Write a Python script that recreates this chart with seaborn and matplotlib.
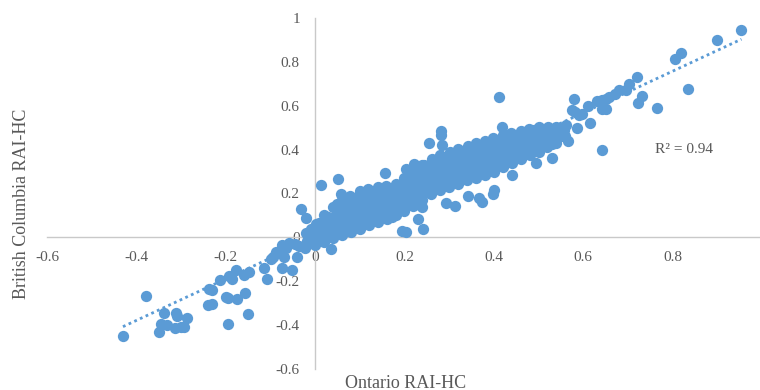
import numpy as np
import pandas as pd
import matplotlib
matplotlib.use("Agg")
import matplotlib.pyplot as plt
import seaborn as sns

# ---- data (Ontario RAI-HC vs British Columbia RAI-HC) ----
ontario_low = [-0.430, -0.379, -0.338, -0.312, -0.310, -0.287, -0.345, -0.331, -0.349, -0.314,
               -0.300, -0.293, -0.237, -0.230, -0.240, -0.230, -0.213, -0.193, -0.186, -0.177,
               -0.159, -0.148, -0.200, -0.195, -0.175, -0.157, -0.195, -0.150, -0.114, -0.108,
               -0.074, -0.052, -0.099, -0.095, -0.088, -0.074, -0.065, -0.058, -0.040, -0.035,
               -0.069, -0.031, -0.020, 0.036, 0.013, 0.052, -0.082, -0.045]
bc_low = [-0.450, -0.268, -0.345, -0.345, -0.357, -0.368, -0.395, -0.400, -0.432, -0.414,
          -0.410, -0.410, -0.236, -0.240, -0.310, -0.305, -0.195, -0.177, -0.190, -0.150,
          -0.173, -0.160, -0.270, -0.277, -0.282, -0.254, -0.395, -0.350, -0.141, -0.190,
          -0.141, -0.150, -0.100, -0.090, -0.068, -0.036, -0.050, -0.027, -0.090, -0.040,
          -0.090, 0.130, 0.090, -0.055, 0.240, 0.268, -0.070, -0.030]

ontario_core = [
    -0.022, -0.018, -0.020,
    0.000, 0.003, -0.002, 0.001,
    0.020, 0.018, 0.022, 0.019,
    0.040, 0.042, 0.038, 0.041,
    0.060, 0.058, 0.062, 0.059, 0.061,
    0.080, 0.082, 0.078, 0.081, 0.079,
    0.100, 0.098, 0.102, 0.099, 0.101,
    0.120, 0.122, 0.118, 0.121, 0.119,
    0.140, 0.138, 0.142, 0.139, 0.141,
    0.160, 0.162, 0.158, 0.161, 0.159,
    0.180, 0.178, 0.182, 0.179, 0.181,
    0.200, 0.202, 0.198, 0.201, 0.199,
    0.220, 0.218, 0.222, 0.219, 0.221,
    0.240, 0.242, 0.238, 0.241, 0.239,
    0.260, 0.258, 0.262, 0.259, 0.261,
    0.280, 0.282, 0.278, 0.281, 0.279,
    0.300, 0.298, 0.302, 0.299, 0.301,
    0.320, 0.322, 0.318, 0.321, 0.319,
    0.340, 0.338, 0.342, 0.339, 0.341,
    0.360, 0.362, 0.358, 0.361, 0.359,
    0.380, 0.378, 0.382, 0.379, 0.381,
    0.400, 0.402, 0.398, 0.401, 0.399,
    0.420, 0.418, 0.422, 0.419, 0.421,
    0.440, 0.442, 0.438, 0.441, 0.439,
    0.460, 0.458, 0.462, 0.459, 0.461,
    0.480, 0.482, 0.478, 0.481, 0.479,
    0.500, 0.498, 0.502, 0.499, 0.501,
    0.520, 0.518, 0.522, 0.521,
    0.540, 0.542, 0.538,
    0.560, 0.558, 0.562]
bc_core = [
    -0.050, -0.015, 0.020,
    -0.035, 0.000, 0.030, 0.060,
    -0.020, 0.020, 0.060, 0.100,
    -0.005, 0.040, 0.090, 0.140,
    0.010, 0.050, 0.090, 0.130, 0.170,
    0.025, 0.065, 0.105, 0.150, 0.190,
    0.040, 0.080, 0.125, 0.170, 0.210,
    0.055, 0.095, 0.140, 0.180, 0.220,
    0.070, 0.110, 0.150, 0.190, 0.230,
    0.085, 0.125, 0.165, 0.200, 0.235,
    0.100, 0.140, 0.175, 0.210, 0.245,
    0.120, 0.160, 0.195, 0.230, 0.270,
    0.145, 0.185, 0.225, 0.260, 0.300,
    0.170, 0.210, 0.250, 0.290, 0.330,
    0.200, 0.240, 0.280, 0.315, 0.355,
    0.215, 0.255, 0.295, 0.335, 0.375,
    0.230, 0.270, 0.310, 0.350, 0.390,
    0.245, 0.285, 0.325, 0.365, 0.405,
    0.260, 0.300, 0.340, 0.380, 0.415,
    0.270, 0.310, 0.350, 0.390, 0.430,
    0.285, 0.325, 0.365, 0.405, 0.440,
    0.300, 0.340, 0.380, 0.420, 0.455,
    0.320, 0.360, 0.400, 0.435, 0.465,
    0.340, 0.375, 0.410, 0.445, 0.475,
    0.355, 0.390, 0.425, 0.455, 0.485,
    0.375, 0.410, 0.440, 0.470, 0.495,
    0.390, 0.425, 0.455, 0.480, 0.505,
    0.410, 0.440, 0.475, 0.505,
    0.430, 0.465, 0.505,
    0.460, 0.490, 0.510]

ontario_fill = [
    -0.010, -0.011, -0.009,
    0.010, 0.011, 0.009,
    0.030, 0.031, 0.029,
    0.050, 0.051, 0.049, 0.050,
    0.070, 0.071, 0.069, 0.070,
    0.090, 0.091, 0.089, 0.090,
    0.110, 0.111, 0.109, 0.110,
    0.130, 0.131, 0.129, 0.130,
    0.150, 0.151, 0.149, 0.150,
    0.170, 0.171, 0.169, 0.170,
    0.190, 0.191, 0.189, 0.190,
    0.210, 0.211, 0.209, 0.210,
    0.230, 0.231, 0.229, 0.230,
    0.250, 0.251, 0.249, 0.250,
    0.270, 0.271, 0.269, 0.270,
    0.290, 0.291, 0.289, 0.290,
    0.310, 0.311, 0.309, 0.310,
    0.330, 0.331, 0.329, 0.330,
    0.350, 0.351, 0.349, 0.350,
    0.370, 0.371, 0.369, 0.370,
    0.390, 0.391, 0.389, 0.390,
    0.410, 0.411, 0.409, 0.410,
    0.430, 0.431, 0.429, 0.430,
    0.450, 0.451, 0.449, 0.450,
    0.470, 0.471, 0.469, 0.470,
    0.490, 0.491, 0.489, 0.490,
    0.510, 0.511, 0.509,
    0.530, 0.531,
    0.550, 0.551]
bc_fill = [
    -0.025, 0.010, 0.040,
    -0.008, 0.030, 0.065,
    0.008, 0.050, 0.095,
    0.022, 0.065, 0.110, 0.150,
    0.038, 0.078, 0.120, 0.160,
    0.052, 0.092, 0.135, 0.180,
    0.068, 0.108, 0.152, 0.195,
    0.082, 0.122, 0.165, 0.205,
    0.098, 0.138, 0.176, 0.214,
    0.112, 0.152, 0.188, 0.222,
    0.130, 0.168, 0.202, 0.240,
    0.152, 0.190, 0.228, 0.265,
    0.178, 0.218, 0.256, 0.295,
    0.205, 0.245, 0.284, 0.322,
    0.228, 0.268, 0.306, 0.345,
    0.242, 0.282, 0.322, 0.362,
    0.258, 0.298, 0.338, 0.378,
    0.272, 0.312, 0.352, 0.390,
    0.285, 0.325, 0.365, 0.404,
    0.298, 0.338, 0.378, 0.416,
    0.312, 0.352, 0.392, 0.430,
    0.330, 0.370, 0.408, 0.444,
    0.350, 0.386, 0.422, 0.455,
    0.365, 0.400, 0.434, 0.465,
    0.382, 0.416, 0.448, 0.476,
    0.400, 0.432, 0.462, 0.488,
    0.416, 0.448, 0.478,
    0.436, 0.470,
    0.462, 0.492]

ontario_side = [0.195, 0.203, 0.242, 0.230, 0.240, 0.293, 0.313, 0.343, 0.374, 0.367,
                0.397, 0.400, 0.441, 0.495, 0.530, 0.530, 0.255, 0.282, 0.282, 0.284,
                0.222, 0.244, 0.204, 0.157, 0.412, 0.058, 0.418, 0.565, 0.173, 0.267]
bc_side = [0.027, 0.023, 0.036, 0.086, 0.140, 0.155, 0.145, 0.190, 0.160, 0.180,
           0.200, 0.214, 0.286, 0.340, 0.360, 0.427, 0.430, 0.486, 0.465, 0.420,
           0.336, 0.330, 0.310, 0.295, 0.640, 0.200, 0.505, 0.440, 0.095, 0.350]

ontario_high = [0.580, 0.575, 0.582, 0.590, 0.614, 0.585, 0.650, 0.643, 0.630, 0.641,
                0.652, 0.658, 0.670, 0.680, 0.696, 0.703, 0.720, 0.732, 0.723, 0.764,
                0.834, 0.805, 0.818, 0.900, 0.954, 0.598, 0.610, 0.643]
bc_high = [0.632, 0.580, 0.570, 0.560, 0.523, 0.500, 0.585, 0.400, 0.620, 0.625,
           0.630, 0.640, 0.655, 0.670, 0.670, 0.700, 0.730, 0.645, 0.614, 0.590,
           0.676, 0.813, 0.840, 0.900, 0.945, 0.564, 0.600, 0.586]

x_ticks = [-0.6, -0.4, -0.2, 0, 0.2, 0.4, 0.6, 0.8]
x_tick_labels = ["-0.6", "-0.4", "-0.2", "0", "0.2", "0.4", "0.6", "0.8"]
y_ticks = [-0.6, -0.4, -0.2, 0, 0.2, 0.4, 0.6, 0.8, 1.0]
y_tick_labels = ["-0.6", "-0.4", "-0.2", "0", "0.2", "0.4", "0.6", "0.8", "1"]
r2_label = "R² = 0.94"

df = pd.DataFrame({
    "Ontario RAI-HC": ontario_low + ontario_core + ontario_fill + ontario_side + ontario_high,
    "British Columbia RAI-HC": bc_low + bc_core + bc_fill + bc_side + bc_high,
})

# ---- styling ----
sns.set_theme(style="white")
plt.rcParams["font.family"] = ["Liberation Serif", "DejaVu Serif"]

blue = "#5B9BD5"
grey_text = "#595959"
axis_grey = "#C9C9C9"

fig = plt.figure(figsize=(7.6, 3.9), dpi=100)
ax = fig.add_axes([47 / 760, 1 - 369 / 390, 715 / 760, 351 / 390])

sns.regplot(
    data=df, x="Ontario RAI-HC", y="British Columbia RAI-HC", ax=ax, ci=None,
    scatter_kws=dict(s=66, color=blue, alpha=1, linewidths=0, zorder=3),
    line_kws=dict(color=blue, lw=2.0, linestyle=(0, (1, 1.25)), zorder=2),
)

ax.set_xlim(-0.6, 1.0)
ax.set_ylim(-0.6, 1.0)
ax.set_xticks(x_ticks)
ax.set_xticklabels(x_tick_labels)
ax.set_yticks(y_ticks)
ax.set_yticklabels(y_tick_labels)

for s in ["top", "right"]:
    ax.spines[s].set_visible(False)
for s in ["left", "bottom"]:
    ax.spines[s].set_position(("data", 0))
    ax.spines[s].set_color(axis_grey)
    ax.spines[s].set_linewidth(1.0)
    ax.spines[s].set_zorder(1)

ax.tick_params(axis="x", length=0, pad=9.5, labelsize=11, colors=grey_text)
ax.tick_params(axis="y", length=0, pad=11, labelsize=11, colors=grey_text)
ax.set_xlabel("")
ax.set_ylabel("")
ax.grid(False)

ax.text(0.76, 0.40, r2_label, fontsize=11, color=grey_text, ha="left", va="center")

fig.text(406 / 760, 1 - 383 / 390, "Ontario RAI-HC", ha="center", va="center",
         fontsize=13, color=grey_text)
fig.text(22 / 760, 1 - 204 / 390, "British Columbia RAI-HC", ha="center", va="center",
         rotation=90, fontsize=13, color=grey_text)

fig.savefig("out.png", dpi=100)
